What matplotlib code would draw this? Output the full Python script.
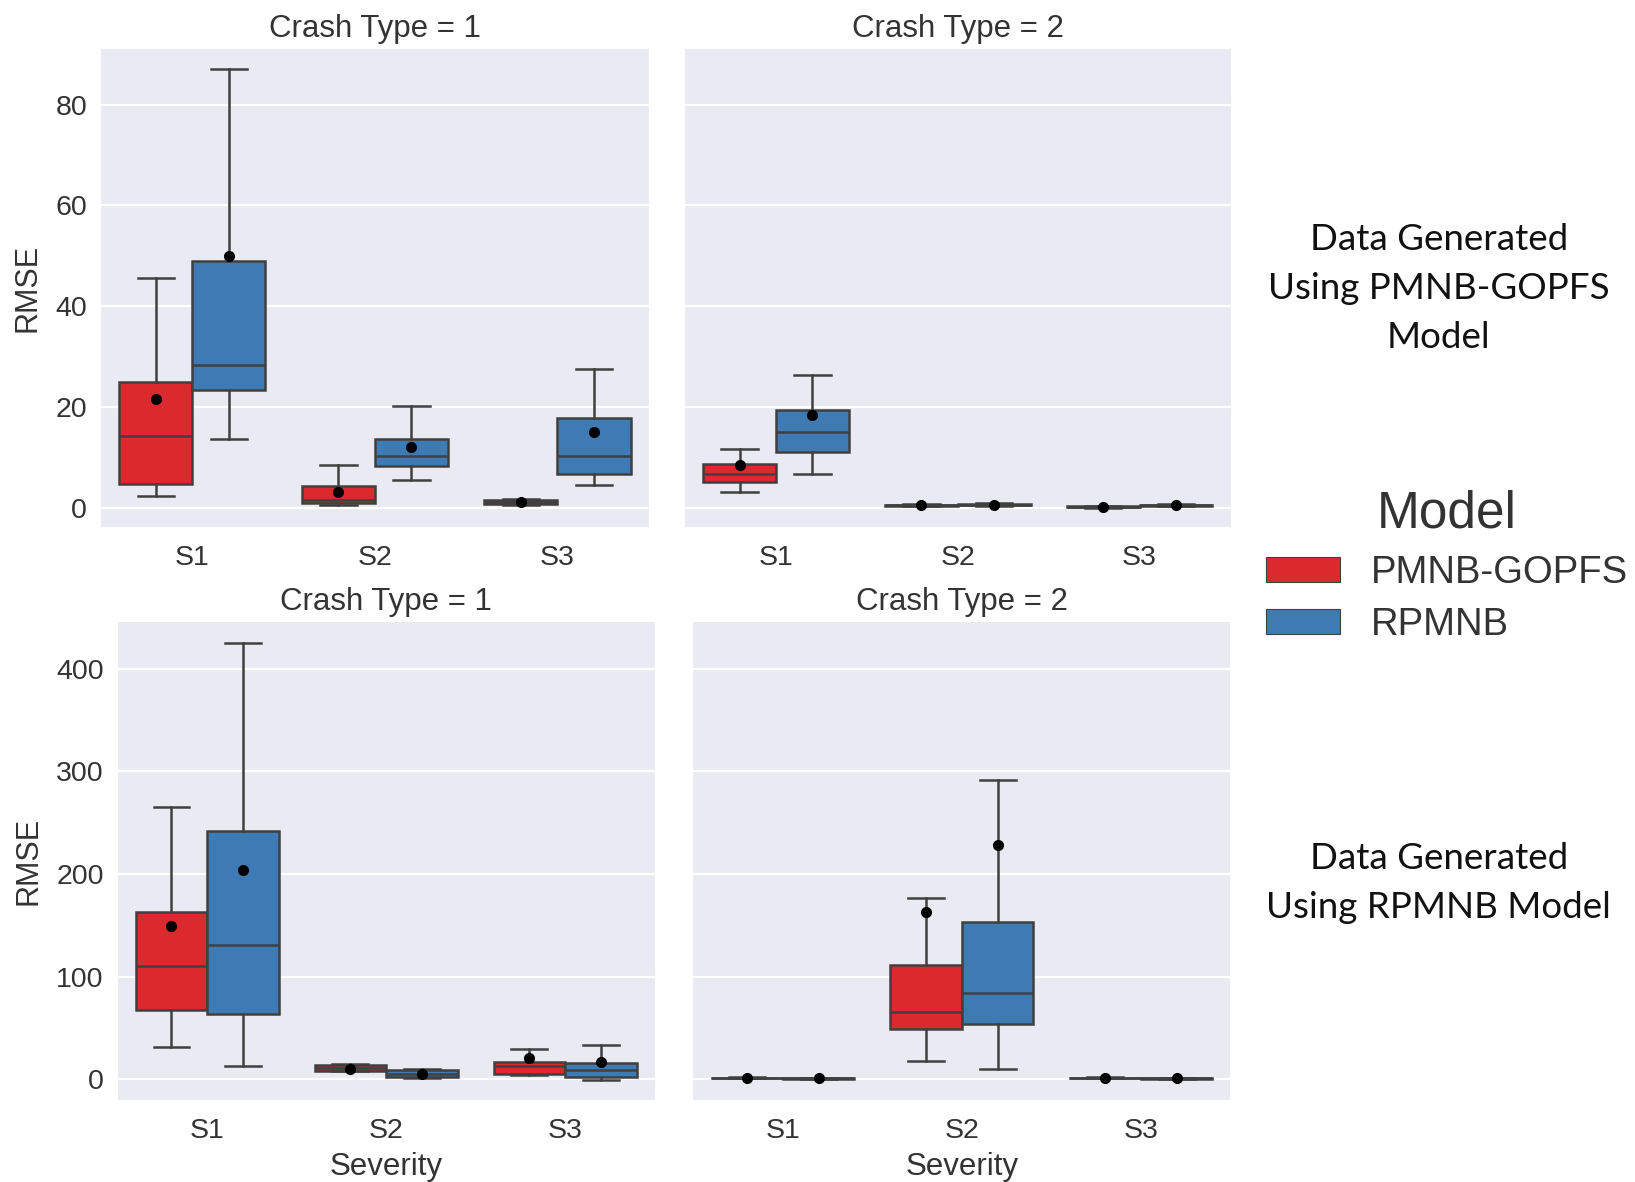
import numpy as np
import matplotlib.pyplot as plt
from matplotlib.patches import Patch

# severity categories and models
severities = ['S1', 'S2', 'S3']
models = ['PMNB-GOPFS', 'RPMNB']
crash_types = [1, 2]

# box stats per severity: [whislo, q1, median, q3, whishi, mean]
# data generated using PMNB-GOPFS model
gen1_ct1_gopfs = [[2.3, 4.8, 14.3, 24.9, 45.6, 21.6],
                  [0.5, 0.9, 1.6, 4.3, 8.5, 3.1],
                  [0.6, 0.8, 1.2, 1.6, 1.8, 1.2]]
gen1_ct1_rpmnb = [[13.7, 23.4, 28.4, 48.9, 87.0, 50.0],
                  [5.6, 8.3, 10.2, 13.7, 20.3, 12.0],
                  [4.6, 6.8, 10.2, 17.8, 27.6, 15.1]]
gen1_ct2_gopfs = [[3.1, 5.2, 6.8, 8.7, 11.6, 8.5],
                  [0.3, 0.4, 0.5, 0.6, 0.7, 0.5],
                  [0.0, 0.1, 0.2, 0.3, 0.4, 0.2]]
gen1_ct2_rpmnb = [[6.8, 11.0, 15.1, 19.5, 26.3, 18.4],
                  [0.4, 0.5, 0.6, 0.7, 0.9, 0.6],
                  [0.3, 0.4, 0.5, 0.6, 0.7, 0.5]]
# data generated using RPMNB model
gen2_ct1_gopfs = [[31.5, 68.0, 110.7, 163.5, 265.0, 149.2],
                  [8.0, 8.5, 11.0, 14.5, 15.0, 10.0],
                  [4.0, 5.0, 13.0, 17.0, 30.0, 21.0]]
gen2_ct1_rpmnb = [[13.2, 64.0, 131.0, 241.6, 425.0, 204.0],
                  [1.5, 2.0, 5.0, 9.0, 10.0, 5.5],
                  [-1.0, 2.0, 9.0, 16.0, 33.5, 17.0]]
gen2_ct2_gopfs = [[1.0, 1.3, 1.5, 1.8, 2.0, 1.5],
                  [18.3, 48.7, 66.0, 111.7, 176.6, 163.5],
                  [1.0, 1.3, 1.5, 1.8, 2.0, 1.5]]
gen2_ct2_rpmnb = [[0.5, 0.8, 1.0, 1.2, 1.5, 1.0],
                  [10.0, 53.8, 84.0, 153.0, 292.0, 228.0],
                  [0.5, 0.8, 1.0, 1.2, 1.5, 1.0]]

colors = ['#da2a2d', '#3e7ab4']
line_col = '#404040'
txt_col = '#333333'

plt.rcParams['font.family'] = ['Liberation Sans', 'DejaVu Sans']


def make_stats(rows):
    out = []
    for r in rows:
        out.append(dict(whislo=r[0], q1=r[1], med=r[2], q3=r[3], whishi=r[4],
                        mean=r[5], fliers=[]))
    return out


def draw_panel(ax, gopfs, rpmnb, ylim, yticks, title, show_y, show_x):
    ax.set_facecolor('#eaeaf2')
    for s in ax.spines.values():
        s.set_visible(False)
    for ytk in yticks:
        ax.axhline(ytk, color='white', lw=1.6, zorder=0)
    x = np.arange(len(severities))
    for k, data in enumerate([gopfs, rpmnb]):
        pos = x - 0.2 + 0.4 * k
        ax.bxp(make_stats(data), positions=pos, widths=0.4, patch_artist=True,
               showmeans=True, showfliers=False,
               boxprops=dict(facecolor=colors[k], edgecolor=line_col, lw=1.8),
               whiskerprops=dict(color=line_col, lw=1.8),
               capprops=dict(color=line_col, lw=1.8),
               medianprops=dict(color=line_col, lw=1.8),
               meanprops=dict(marker='o', markerfacecolor='black',
                              markeredgecolor='black', markersize=7),
               zorder=2)
    ax.set_xlim(-0.5, 2.5)
    ax.set_ylim(*ylim)
    ax.set_xticks(x)
    ax.set_xticklabels(severities)
    ax.set_yticks(yticks)
    ax.tick_params(axis='x', length=0, labelsize=20.5, colors=txt_col, pad=13)
    ax.tick_params(axis='y', length=0, labelsize=20.5, colors=txt_col, pad=10)
    if show_y:
        ax.set_ylabel('RMSE', fontsize=22, color=txt_col, labelpad=9)
    else:
        ax.set_yticklabels([])
    if show_x:
        ax.set_xlabel('Severity', fontsize=22.5, color=txt_col, labelpad=6)
    ax.set_title(title, fontsize=22.5, color=txt_col, pad=9)


fig = plt.figure(figsize=(16.35, 11.82), dpi=100)
ax_tl = fig.add_axes([0.0618, 0.5545, 0.335, 0.404])
ax_tr = fig.add_axes([0.419, 0.5545, 0.3336, 0.404])
ax_bl = fig.add_axes([0.072, 0.0694, 0.3284, 0.404])
ax_br = fig.add_axes([0.4241, 0.0694, 0.3284, 0.404])

top_ticks = [0, 20, 40, 60, 80]
bot_ticks = [0, 100, 200, 300, 400]
draw_panel(ax_tl, gen1_ct1_gopfs, gen1_ct1_rpmnb, (-3.7, 91), top_ticks,
           'Crash Type = 1', True, False)
draw_panel(ax_tr, gen1_ct2_gopfs, gen1_ct2_rpmnb, (-3.7, 91), top_ticks,
           'Crash Type = 2', False, False)
draw_panel(ax_bl, gen2_ct1_gopfs, gen2_ct1_rpmnb, (-20, 445), bot_ticks,
           'Crash Type = 1', True, True)
draw_panel(ax_br, gen2_ct2_gopfs, gen2_ct2_rpmnb, (-20, 445), bot_ticks,
           'Crash Type = 2', False, True)

fig.text(0.880, 0.756, 'Data Generated\nUsing PMNB-GOPFS\nModel', ha='center',
         va='center', fontsize=26.5, family='Lato', linespacing=1.6, color='#111111')
fig.text(0.880, 0.253, 'Data Generated\nUsing RPMNB Model', ha='center',
         va='center', fontsize=26.5, family='Lato', linespacing=1.6, color='#111111')

handles = [Patch(facecolor=colors[i], edgecolor=line_col, lw=0.8) for i in range(2)]
leg = fig.legend(handles, models, title='Model', loc='center left',
                 bbox_to_anchor=(0.753, 0.521), frameon=False, fontsize=27.5,
                 title_fontsize=37, handlelength=1.95, handleheight=0.65,
                 handletextpad=0.8, labelspacing=0.43)
for t in leg.get_texts():
    t.set_color(txt_col)
leg.get_title().set_color(txt_col)

fig.savefig('out.png', dpi=100)
